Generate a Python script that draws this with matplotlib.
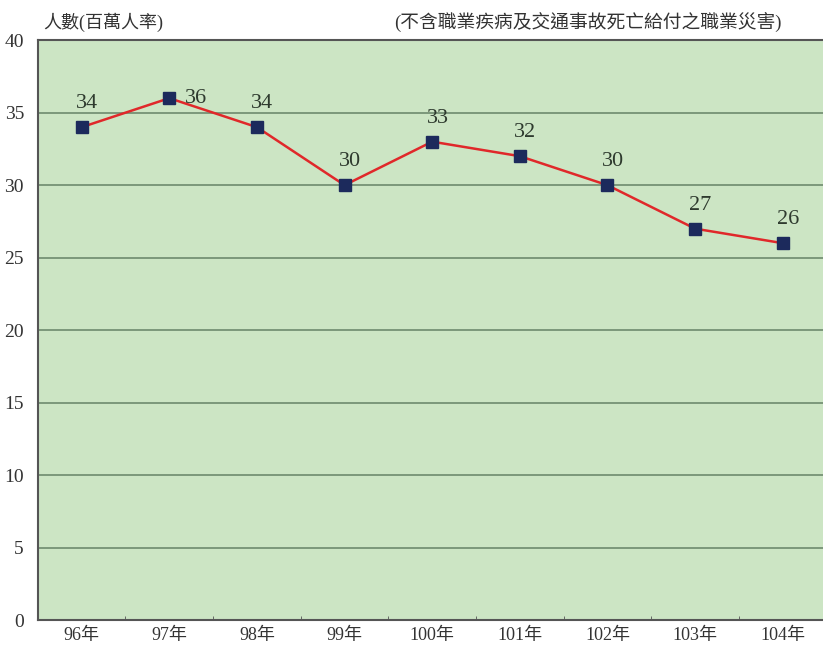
import matplotlib
matplotlib.use("Agg")
import matplotlib.pyplot as plt

years = ["96年", "97年", "98年", "99年", "100年", "101年", "102年", "103年", "104年"]
values = [34, 36, 34, 30, 33, 32, 30, 27, 26]
y_ticks = [0, 5, 10, 15, 20, 25, 30, 35, 40]

FONTS = ["Liberation Serif", "Noto Sans CJK TC"]

fig = plt.figure(figsize=(8.23, 6.48), dpi=100)
ax = fig.add_axes([0.046, 0.043, 0.954, 0.895])
ax.set_facecolor("#cce5c4")

x = list(range(len(years)))
ax.plot(x, values, color="#e0282a", linewidth=1.8, zorder=3)
ax.plot(x, values, linestyle="none", marker="s", markersize=9,
        color="#1c2a5c", zorder=4)

for i, v in enumerate(values):
    # the 97 label sits to the right of its marker, the rest above
    off = (19, 0) if i == 1 else (4, 17)
    ax.annotate(str(v), (i, v), xytext=off, textcoords="offset points",
                ha="center", va="center", fontsize=16, color="#2e3a2e",
                family=FONTS)

ax.set_ylim(0, 40)
ax.set_xlim(-0.5, 8.46)
ax.set_yticks(y_ticks)
ax.yaxis.grid(True, color="#6e8a6e", linewidth=1.2)
ax.set_axisbelow(True)
ax.tick_params(axis="y", length=0, labelsize=14, labelcolor="#333333", pad=10)
for lbl in ax.get_yticklabels():
    lbl.set_family(FONTS)

ax.set_xticks(x)
ax.set_xticklabels(years, family=FONTS, fontsize=13, color="#333333")
ax.set_xticks([i + 0.5 for i in range(len(years) - 1)], minor=True)
ax.tick_params(axis="x", which="major", length=0, pad=5)
ax.tick_params(axis="x", which="minor", length=3, direction="in", color="#555555")

for side in ("top", "left", "bottom"):
    ax.spines[side].set_color("#555555")
    ax.spines[side].set_linewidth(1.5)
ax.spines["right"].set_visible(False)

fig.text(0.053, 0.966, "人數(百萬人率)", family=FONTS, fontsize=13,
         color="#333333", va="center")
fig.text(0.95, 0.966, "(不含職業疾病及交通事故死亡給付之職業災害)", family=FONTS,
         fontsize=13.5, color="#333333", va="center", ha="right")

fig.savefig("out.png", dpi=100)
